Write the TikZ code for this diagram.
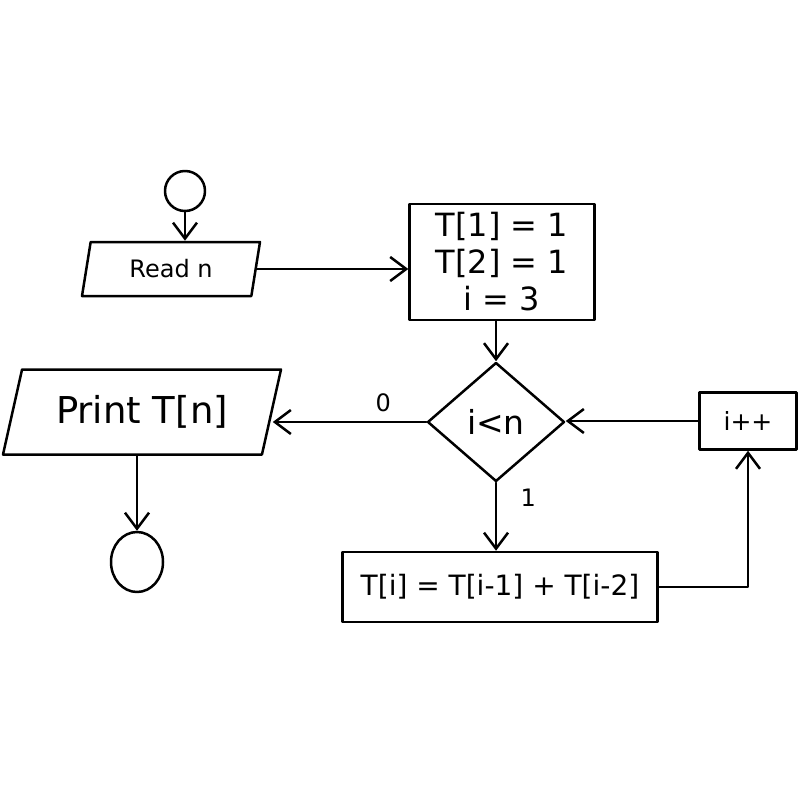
\documentclass[tikz,border=0pt]{standalone}
\usepackage{fontspec}
\setmainfont{DejaVu Sans}
\usetikzlibrary{shapes.geometric,arrows.meta}
\begin{document}
\begin{tikzpicture}[x=1pt,y=-1pt,
  line width=2.5pt, line cap=round, line join=round,
  flow/.style={draw, inner sep=0pt},
  procbox/.style={flow, rectangle},
  iobox/.style={flow, trapezium, trapezium stretches body},
  arr/.style={-{Straight Barb[length=16pt,width=24pt]}},
  lbl/.style={font=\fontsize{24}{28}\selectfont}
]
\useasboundingbox (0,0) rectangle (800,800);

% terminals
\node[flow, circle, minimum size=40] (start) at (185,191) {};
\node[flow, ellipse, minimum width=52, minimum height=60] (stop) at (137,562) {};

% input / output
\node[iobox, trapezium left angle=65, trapezium right angle=115,
      minimum width=178, minimum height=54,
      font=\fontsize{24}{28}\selectfont] (read) at (171,269) {Read n};
\node[iobox, trapezium left angle=60, trapezium right angle=120,
      minimum width=278, minimum height=85,
      font=\fontsize{37}{42}\selectfont] (print) at (142,412) {Print T[n]};

% initialisation
\node[procbox, minimum width=185, minimum height=116, align=center,
      font=\fontsize{32}{37}\selectfont] (init) at (502,262)
      {T[1] = 1\\T[2] = 1\\i = 3};

% loop test
\node[flow, diamond, minimum width=137, minimum height=119,
      font=\fontsize{33}{36}\selectfont] (cond) at (496,422) {i<n};

% loop body and increment
\node[procbox, minimum width=315, minimum height=70,
      font=\fontsize{28}{32}\selectfont] (calc) at (500,587)
      {T[i] = T[i-1] + T[i-2]};
\node[procbox, minimum width=97, minimum height=57,
      font=\fontsize{25}{28}\selectfont] (incr) at (748,421) {i++};

% connectors
\draw[arr] (start.south) -- (start.south |- read.north);
\draw[arr] (read.east) -- (read.east -| init.west);
\draw[arr] (cond.north |- init.south) -- (cond.north);
\draw[arr] (cond.west) -- node[lbl, pos=0.28, above=6pt] {0} (cond.west -| print.east);
\draw[arr] (stop.north |- print.south) -- (stop.north);
\draw[arr] (cond.south) -- node[lbl, pos=0.22, right=20pt] {1} (cond.south |- calc.north);
\draw[arr] (calc.east) -| (incr.south);
\draw[arr] (incr.west) -- (incr.west -| cond.east);
\end{tikzpicture}
\end{document}
